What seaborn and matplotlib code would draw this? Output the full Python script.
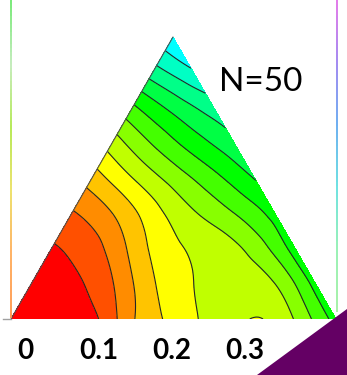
import numpy as np
import matplotlib
matplotlib.use("Agg")
import matplotlib.pyplot as plt
import matplotlib.tri as mtri
from matplotlib.collections import LineCollection
from matplotlib.colors import LinearSegmentedColormap
from matplotlib.patches import Polygon
import seaborn as sns

# --- Data: field values on an 8-step ternary grid (rows from base to apex) ---
row0 = [-0.3, 0.2, 0.75, 2.9, 4.3, 5.25, 4.97, 6.1, 8.4]
row1 = [0.3, 0.8, 1.95, 3.9, 5.0, 5.4, 6.0, 8.4]
row2 = [0.9, 1.6, 3.3, 4.8, 5.4, 6.4, 8.5]
row3 = [1.9, 3.0, 4.6, 5.9, 7.0, 8.4]
row4 = [3.5, 5.0, 6.4, 7.7, 9.05]
row5 = [5.5, 7.1, 8.5, 9.7]
row6 = [7.8, 9.3, 10.5]
row7 = [10.5, 11.85]
row8 = [12.8]
grid_rows = [row0, row1, row2, row3, row4, row5, row6, row7, row8]

level_values = list(range(1, 13))
band_colors = ['#ff0000', '#ff5000', '#ff8c00', '#ffc400', '#ffff00', '#c0ff00',
               '#88ff00', '#44ff00', '#00ff00', '#00ff44', '#00ff88', '#00ffc4', '#00ffff']
tick_values = [0, 0.1, 0.2, 0.3]
tick_labels = ['0', '0.1', '0.2', '0.3']
n_label = 'N=50'

# --- Style ---
sns.set_theme(style="white")
plt.rcParams['font.family'] = ['Lato', 'DejaVu Sans']

W, H = 347, 375
fig = plt.figure(figsize=(W / 100, H / 100), dpi=100)

base_px = 319      # pixel row of the triangle base
scale = 734.0      # pixels per data unit
x0_px = 25         # pixel column of x = 0
ax = fig.add_axes([0, (H - base_px) / H, 1, base_px / H])
ax.set_xlim(-x0_px / scale, (W - x0_px) / scale)
ax.set_ylim(0, base_px / scale)

# triangle corners (data coords)
left = np.array([(11 - x0_px) / scale, 0.0])
right = np.array([(336 - x0_px) / scale, 0.0])
apex = np.array([(173 - x0_px) / scale, (base_px - 37) / scale])

# build ternary grid points and triangles
n = len(grid_rows) - 1
xs, ys, zs = [], [], []
index = {}
for i, row in enumerate(grid_rows):
    for j, val in enumerate(row):
        p = left + (j / n) * (right - left) + (i / n) * (apex - left)
        index[(i, j)] = len(xs)
        xs.append(p[0])
        ys.append(p[1])
        zs.append(val)
triangles = []
for i in range(n):
    for j in range(n - i):
        triangles.append([index[(i, j)], index[(i, j + 1)], index[(i + 1, j)]])
        if j < n - i - 1:
            triangles.append([index[(i, j + 1)], index[(i + 1, j + 1)], index[(i + 1, j)]])

tri = mtri.Triangulation(xs, ys, triangles)
refiner = mtri.UniformTriRefiner(tri)
tri_f, z_f = refiner.refine_field(np.array(zs), subdiv=4)

levels = [-50] + level_values + [50]
ax.tricontourf(tri_f, z_f, levels=levels, colors=band_colors)
ax.tricontour(tri_f, z_f, levels=level_values, colors='#262626', linewidths=0.8)
ax.plot([left[0], apex[0]], [left[1], apex[1]], color='#505050', lw=0.8)

# axes decoration
ax.set_xticks(tick_values)
ax.set_xticklabels(tick_labels, fontweight='bold', fontsize=20)
ax.tick_params(axis='x', length=0, pad=14, colors='black')
ax.set_yticks([])
for s in ['top', 'right', 'left']:
    ax.spines[s].set_visible(False)
ax.spines['bottom'].set_bounds((3 - x0_px) / scale, (11 - x0_px) / scale)
ax.spines['bottom'].set_color('#a0a0a0')
ax.spines['bottom'].set_linewidth(1.0)
ax.patch.set_alpha(0)


# thin gradient edge lines (neighbouring panels)
def gradient_line(x_px, y_top, y_bot, colors):
    cmap = LinearSegmentedColormap.from_list('edge', colors)
    yy = np.linspace(y_top, y_bot, 80)
    segs = [[(x_px / W, 1 - yy[k] / H), (x_px / W, 1 - yy[k + 1] / H)] for k in range(len(yy) - 1)]
    cols = cmap(np.linspace(0, 1, len(segs)))
    fig.add_artist(LineCollection(segs, colors=cols, linewidths=1.3, transform=fig.transFigure))


gradient_line(10.7, 0, 318, ['#6ee86e', '#c0eab8', '#b0e848', '#ece060', '#ffac58', '#ff9448'])
gradient_line(337.3, 0, 312, ['#e070e8', '#9a80f0', '#60a8f0', '#60e0e0', '#90f0b0', '#a0f0a0'])

# purple corner shape
fig.add_artist(Polygon([(257 / W, 0), (1, (H - 309) / H), (1, 0)], closed=True,
                       transform=fig.transFigure, facecolor='#640064', edgecolor='none'))

fig.text(219 / W, 1 - 91 / H, n_label, fontsize=24, ha='left', va='baseline', color='black')

fig.savefig('out.png', dpi=100)
